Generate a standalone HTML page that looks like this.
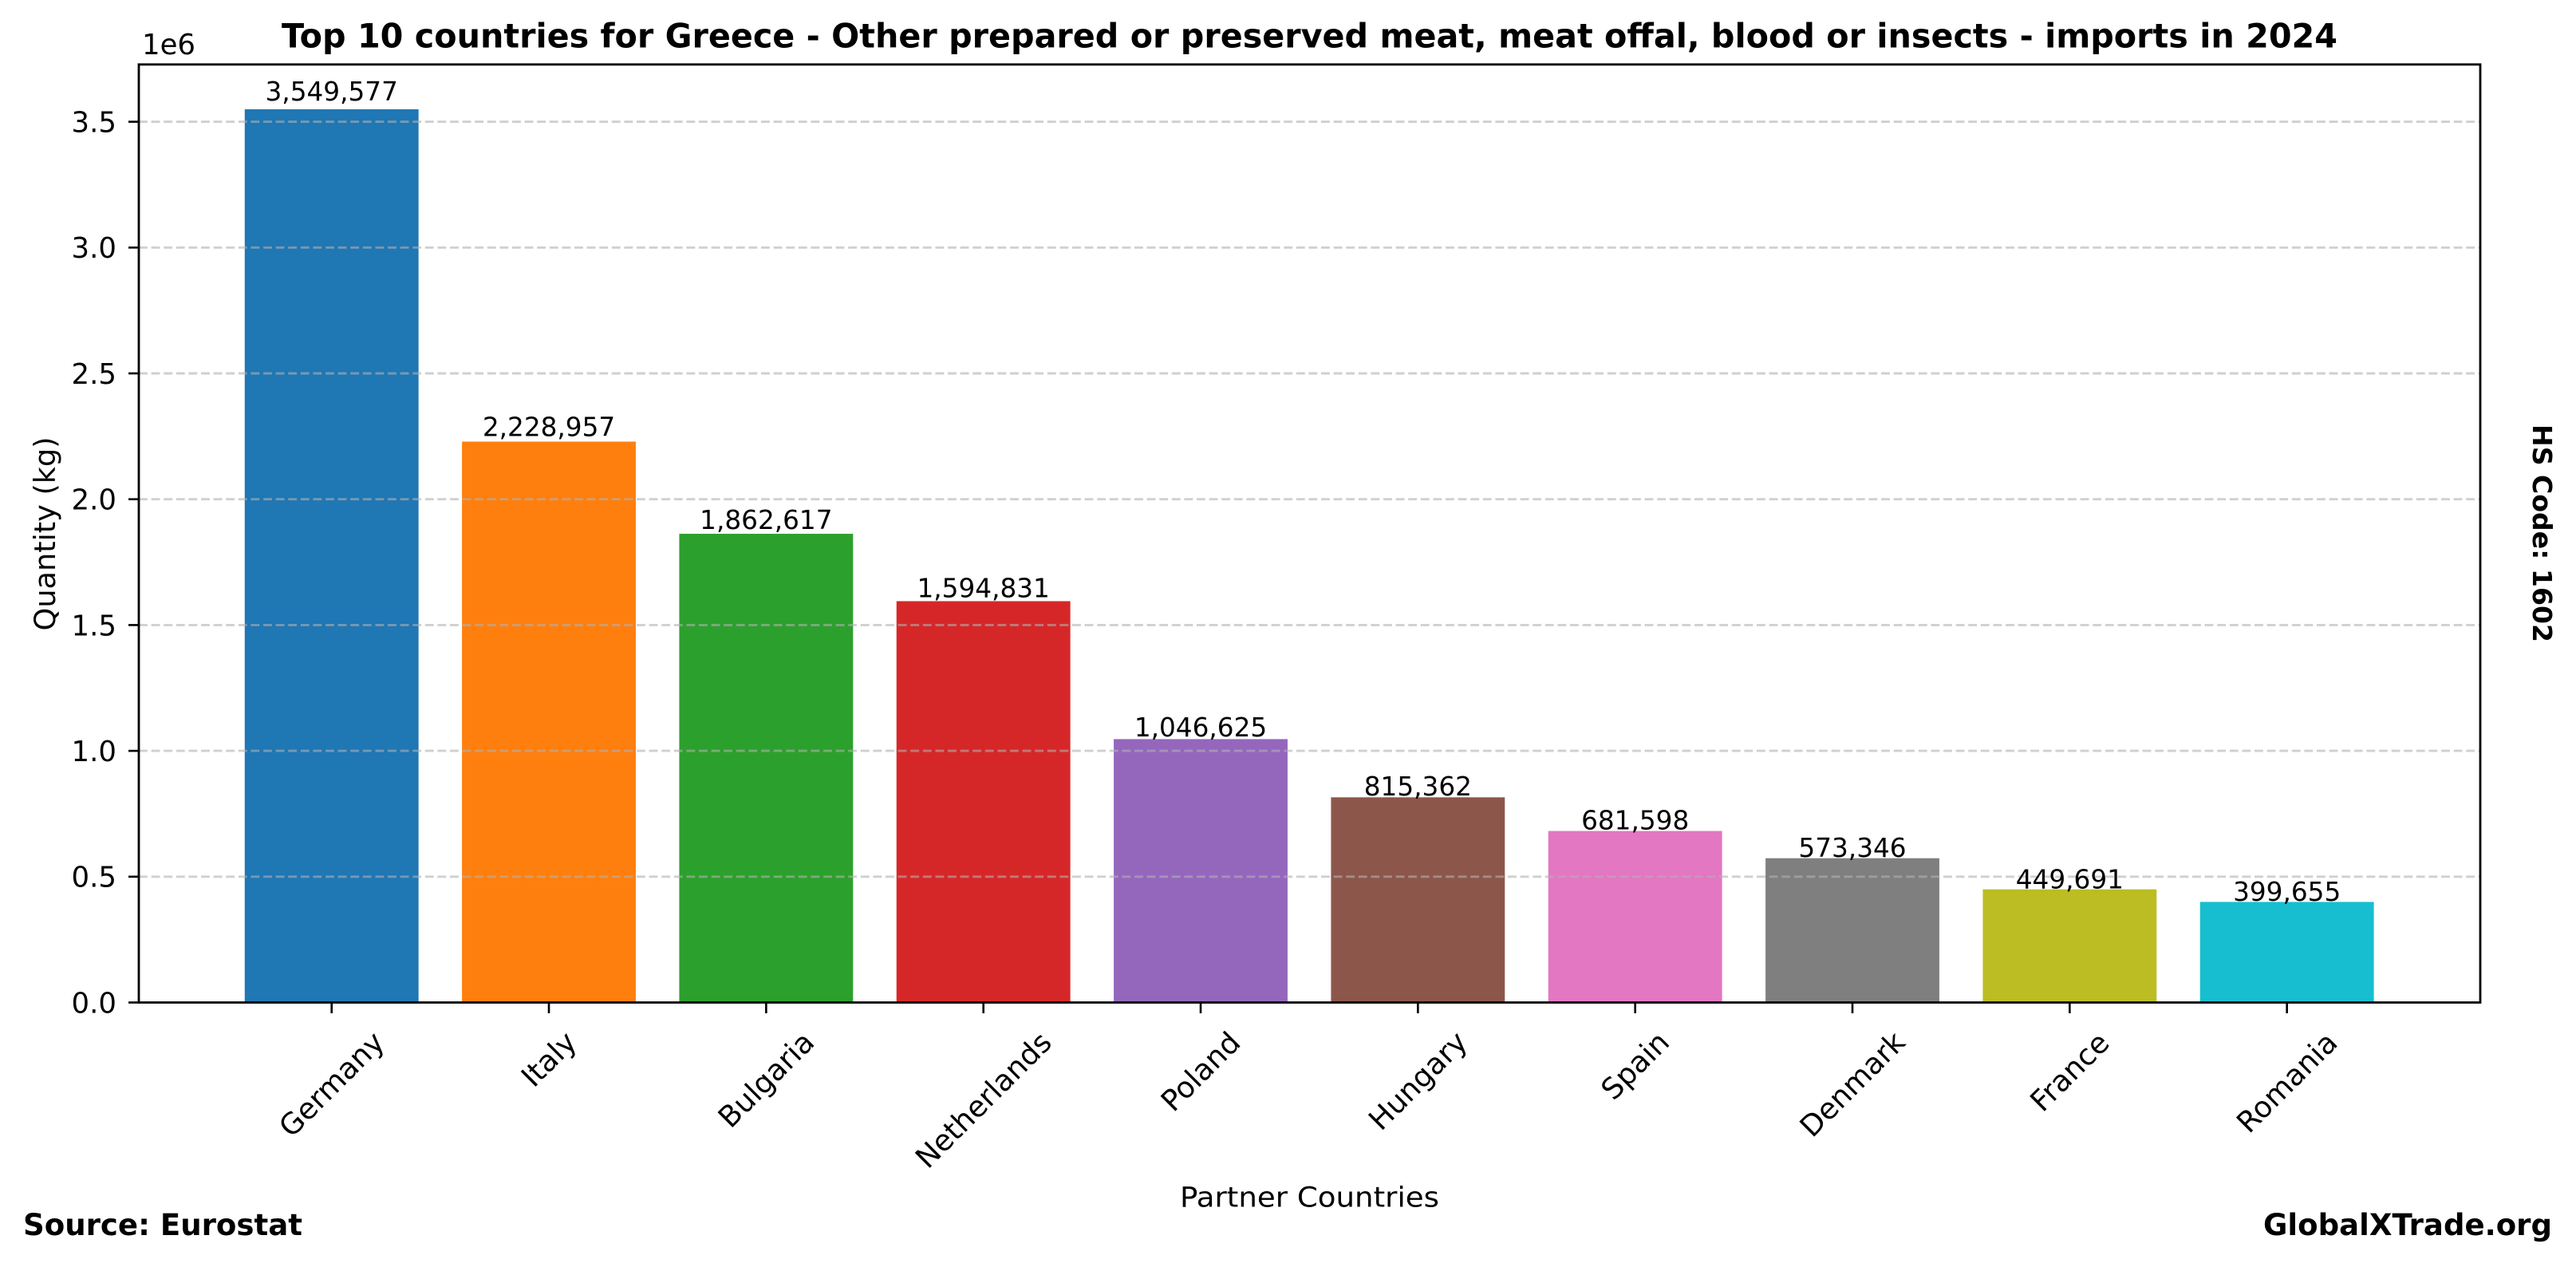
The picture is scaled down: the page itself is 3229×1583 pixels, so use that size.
<!DOCTYPE html>
<html>
<head>
<meta charset="utf-8">
<style>
html,body{margin:0;padding:0;background:#fff;}
svg{display:block;}
text{font-family:"DejaVu Sans","Liberation Sans",sans-serif;fill:#000;}
</style>
</head>
<body>
<svg width="3229" height="1583" viewBox="0 0 3229 1583" xmlns="http://www.w3.org/2000/svg">
<rect x="0" y="0" width="3229" height="1583" fill="#fff"/>

<!-- bars -->
<rect x="306.77" y="136.96" width="217.87" height="1119.54" fill="#1f77b4"/>
<rect x="579.10" y="553.49" width="217.87" height="703.01" fill="#ff7f0e"/>
<rect x="851.43" y="669.03" width="217.87" height="587.47" fill="#2ca02c"/>
<rect x="1123.76" y="753.49" width="217.87" height="503.01" fill="#d62728"/>
<rect x="1396.09" y="926.39" width="217.87" height="330.11" fill="#9467bd"/>
<rect x="1668.42" y="999.33" width="217.87" height="257.17" fill="#8c564b"/>
<rect x="1940.75" y="1041.52" width="217.87" height="214.98" fill="#e377c2"/>
<rect x="2213.08" y="1075.67" width="217.87" height="180.83" fill="#7f7f7f"/>
<rect x="2485.41" y="1114.67" width="217.87" height="141.83" fill="#bcbd22"/>
<rect x="2757.74" y="1130.45" width="217.87" height="126.05" fill="#17becf"/>

<!-- grid -->
<g stroke="#b0b0b0" stroke-opacity="0.6" stroke-width="2.9" stroke-dasharray="10.9,4.7" fill="none">
<line x1="174" y1="1098.8" x2="3109" y2="1098.8"/>
<line x1="174" y1="941.1" x2="3109" y2="941.1"/>
<line x1="174" y1="783.4" x2="3109" y2="783.4"/>
<line x1="174" y1="625.7" x2="3109" y2="625.7"/>
<line x1="174" y1="468.0" x2="3109" y2="468.0"/>
<line x1="174" y1="310.3" x2="3109" y2="310.3"/>
<line x1="174" y1="152.6" x2="3109" y2="152.6"/>
</g>

<!-- spines -->
<rect x="174" y="80.8" width="2935" height="1175.7" fill="none" stroke="#000" stroke-width="2.8"/>

<!-- y ticks -->
<g stroke="#000" stroke-width="2.6">
<line x1="161" y1="1256.5" x2="174" y2="1256.5"/>
<line x1="161" y1="1098.8" x2="174" y2="1098.8"/>
<line x1="161" y1="941.1" x2="174" y2="941.1"/>
<line x1="161" y1="783.4" x2="174" y2="783.4"/>
<line x1="161" y1="625.7" x2="174" y2="625.7"/>
<line x1="161" y1="468.0" x2="174" y2="468.0"/>
<line x1="161" y1="310.3" x2="174" y2="310.3"/>
<line x1="161" y1="152.6" x2="174" y2="152.6"/>
</g>
<g font-size="35.5" text-anchor="end">
<text x="146" y="1269.4">0.0</text>
<text x="146" y="1111.7">0.5</text>
<text x="146" y="954.0">1.0</text>
<text x="146" y="796.3">1.5</text>
<text x="146" y="638.6">2.0</text>
<text x="146" y="480.9">2.5</text>
<text x="146" y="323.2">3.0</text>
<text x="146" y="165.5">3.5</text>
</g>
<text x="178" y="68" font-size="35.5">1e6</text>

<!-- x ticks -->
<g stroke="#000" stroke-width="2.6">
<line x1="415.70" y1="1256.5" x2="415.70" y2="1270"/>
<line x1="688.03" y1="1256.5" x2="688.03" y2="1270"/>
<line x1="960.36" y1="1256.5" x2="960.36" y2="1270"/>
<line x1="1232.69" y1="1256.5" x2="1232.69" y2="1270"/>
<line x1="1505.02" y1="1256.5" x2="1505.02" y2="1270"/>
<line x1="1777.35" y1="1256.5" x2="1777.35" y2="1270"/>
<line x1="2049.68" y1="1256.5" x2="2049.68" y2="1270"/>
<line x1="2322.01" y1="1256.5" x2="2322.01" y2="1270"/>
<line x1="2594.34" y1="1256.5" x2="2594.34" y2="1270"/>
<line x1="2866.67" y1="1256.5" x2="2866.67" y2="1270"/>
</g>
<g font-size="36.5" text-anchor="middle">
<text transform="translate(415.70,1359.0) rotate(-45)" x="0" y="12.6">Germany</text>
<text transform="translate(688.03,1327.5) rotate(-45)" x="0" y="12.6">Italy</text>
<text transform="translate(960.36,1353.1) rotate(-45)" x="0" y="12.6">Bulgaria</text>
<text transform="translate(1232.69,1378.7) rotate(-45)" x="0" y="12.6">Netherlands</text>
<text transform="translate(1505.02,1343.1) rotate(-45)" x="0" y="12.6">Poland</text>
<text transform="translate(1777.35,1354.6) rotate(-45)" x="0" y="12.6">Hungary</text>
<text transform="translate(2049.68,1335.6) rotate(-45)" x="0" y="12.6">Spain</text>
<text transform="translate(2322.01,1358.9) rotate(-45)" x="0" y="12.6">Denmark</text>
<text transform="translate(2594.34,1343.4) rotate(-45)" x="0" y="12.6">France</text>
<text transform="translate(2866.67,1356.6) rotate(-45)" x="0" y="12.6">Romania</text>
</g>

<!-- value labels -->
<g font-size="32.7" text-anchor="middle">
<text x="415.70" y="125.8">3,549,577</text>
<text x="688.03" y="546.5">2,228,957</text>
<text x="960.36" y="663.2">1,862,617</text>
<text x="1232.69" y="748.5">1,594,831</text>
<text x="1505.02" y="923.1">1,046,625</text>
<text x="1777.35" y="996.8">815,362</text>
<text x="2049.68" y="1039.4">681,598</text>
<text x="2322.01" y="1073.9">573,346</text>
<text x="2594.34" y="1113.3">449,691</text>
<text x="2866.67" y="1129.2">399,655</text>
</g>

<!-- axis labels -->
<text x="1641.5" y="1512.7" font-size="35" text-anchor="middle" textLength="325" lengthAdjust="spacingAndGlyphs">Partner Countries</text>
<text transform="translate(69,669) rotate(-90)" x="0" y="0" font-size="36.5" text-anchor="middle" textLength="243" lengthAdjust="spacingAndGlyphs">Quantity (kg)</text>

<!-- title -->
<text x="1641.5" y="59.3" font-size="42" font-weight="bold" text-anchor="middle" textLength="2577" lengthAdjust="spacingAndGlyphs">Top 10 countries for Greece - Other prepared or preserved meat, meat offal, blood or insects - imports in 2024</text>

<!-- HS code -->
<text transform="translate(3175,668.5) rotate(90)" x="0" y="0" font-size="33" font-weight="bold" text-anchor="middle" textLength="273" lengthAdjust="spacingAndGlyphs">HS Code: 1602</text>

<!-- footer -->
<text x="29" y="1548" font-size="37" font-weight="bold" textLength="350" lengthAdjust="spacingAndGlyphs">Source: Eurostat</text>
<text x="3199" y="1548" font-size="37" font-weight="bold" text-anchor="end" textLength="362" lengthAdjust="spacingAndGlyphs">GlobalXTrade.org</text>
</svg>
</body>
</html>
